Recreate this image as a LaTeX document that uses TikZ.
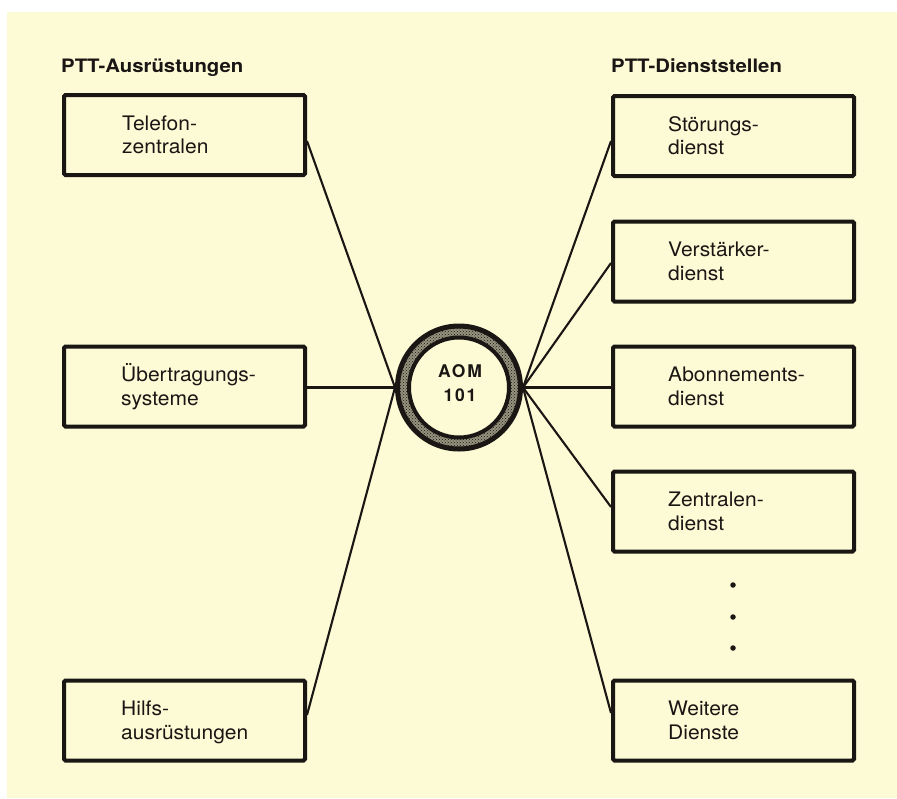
\documentclass[tikz,border=0pt]{standalone}
\usepackage{fontspec}
\setmainfont{TeX Gyre Heros}
\newfontfamily\boxfont[FakeStretch=1.05]{TeX Gyre Heros}
\newfontfamily\headfont[FakeStretch=1.1]{TeX Gyre Heros}
\newfontfamily\ringfont[LetterSpace=10]{TeX Gyre Heros}
\usetikzlibrary{calc,patterns}
\definecolor{paper}{RGB}{253,250,214}
\definecolor{hatch}{RGB}{150,147,126}
\definecolor{ink}{RGB}{25,22,20}
\newcommand\mytwolines[2]{\begin{tabular}[t]{@{}l@{}}#1\\#2\end{tabular}}
\begin{document}
\begin{tikzpicture}[x=1pt,y=-1pt,
  box/.style={draw=ink, line width=4pt, rounded corners=1.5pt, minimum width=241pt, minimum height=80pt, inner sep=0pt},
  lbl/.style={inner sep=0pt, anchor=base west, font=\boxfont\fontsize{20}{23.5}\selectfont, text=ink},
  head/.style={inner sep=0pt, anchor=base west, font=\headfont\bfseries\fontsize{18.5}{22}\selectfont, text=ink},
  link/.style={draw=ink, line width=2.1pt},
  dotm/.style={circle, fill=ink, inner sep=0pt, minimum size=5.5pt}]
\useasboundingbox (0,0) rectangle (897,798);
\fill[white] (0,0) rectangle (897,798);
\fill[paper] (7,12) rectangle (897,798);

% headings
\node[head] (hl) at (61,72) {PTT-Ausrüstungen};
\node[head] (hr) at (611,72) {PTT-Dienststellen};

% left boxes
\node[box] (tel) at (184.5,135) {};
\node[box] (ueb) at (184.5,386.5) {};
\node[box] (hil) at (184.5,720.5) {};
% right boxes
\node[box] (stoe) at (733.5,136) {};
\node[box] (ver) at (733.5,261.5) {};
\node[box] (abo) at (733.5,386.5) {};
\node[box] (zen) at (733.5,511.5) {};
\node[box] (wei) at (733.5,720.5) {};

% labels
\node[lbl] (telT) at ($(tel.west)+(60,-5)$) {\mytwolines{Telefon-}{zentralen}};
\node[lbl] (uebT) at ($(ueb.west)+(59,-5)$) {\mytwolines{Übertragungs-}{systeme}};
\node[lbl] (hilT) at ($(hil.west)+(59,-5)$) {\mytwolines{Hilfs-}{ausrüstungen}};
\node[lbl] (stoeT) at ($(stoe.west)+(57,-5)$) {\mytwolines{Störungs-}{dienst}};
\node[lbl] (verT) at ($(ver.west)+(57,-5)$) {\mytwolines{Verstärker-}{dienst}};
\node[lbl] (aboT) at ($(abo.west)+(57,-5)$) {\mytwolines{Abonnements-}{dienst}};
\node[lbl] (zenT) at ($(zen.west)+(57,-5)$) {\mytwolines{Zentralen-}{dienst}};
\node[lbl] (weiT) at ($(wei.west)+(57,-5)$) {\mytwolines{Weitere}{Dienste}};

% dots
\node[dotm] (d1) at (733,585) {};
\node[dotm] (d2) at (733,617) {};
\node[dotm] (d3) at (733,648) {};

% central ring
\node[circle, draw=ink, line width=5pt, minimum size=123pt, inner sep=0pt,
  preaction={fill=hatch}, pattern=crosshatch dots, pattern color=ink] (aom) at (459,387.5) {};
\draw[draw=ink, line width=4pt, fill=paper] (aom.center) circle[radius=50];
\node[inner sep=0pt, anchor=base, font=\ringfont\bfseries\fontsize{17.5}{24.5}\selectfont, text=ink] (aomT)
  at ($(aom.center)+(1,-10.5)$) {\begin{tabular}[t]{@{}c@{}}AOM\\101\end{tabular}};

% connectors
\draw[link] ([yshift=-6pt]tel.east) -- (aom.west);
\draw[link] ([yshift=-1pt]ueb.east) -- (aom.west);
\draw[link] ([yshift=5.5pt]hil.east) -- (aom.west);
\draw[link] ([yshift=-5pt]stoe.west) -- (aom.east);
\draw[link] ([yshift=-1.5pt]ver.west) -- (aom.east);
\draw[link] ([yshift=-1pt]abo.west) -- (aom.east);
\draw[link] ([yshift=4.5pt]zen.west) -- (aom.east);
\draw[link] ([yshift=7.5pt]wei.west) -- (aom.east);
\end{tikzpicture}
\end{document}
